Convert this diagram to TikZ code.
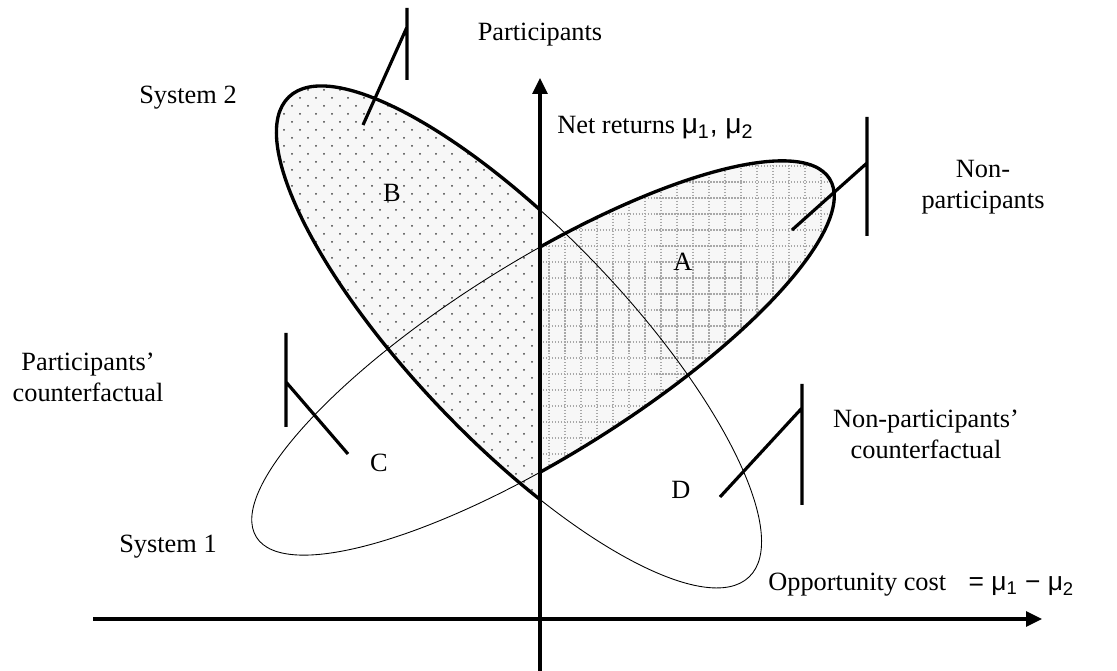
\documentclass[tikz,border=0pt]{standalone}
\usepackage{fontspec}
\setmainfont{Liberation Serif}
\newfontfamily\mufont{Liberation Sans}
\usetikzlibrary{arrows.meta}
\tikzset{every node/.append style={align=center}}
\definecolor{dotfill}{HTML}{F7F7F7}
\definecolor{dotink}{HTML}{404040}
\definecolor{gridfill}{HTML}{F7F7F7}
\definecolor{gridink}{HTML}{A8A8A8}

\begin{document}
\begin{tikzpicture}[x=0.02cm, y=-0.02cm, >={Triangle[length=0.32cm,width=0.3cm]},
  every node/.style={font=\fontsize{15}{17.6}\selectfont, align=center, inner sep=0pt},
  axis/.style={line width=1.8pt},
  leader/.style={line width=1.8pt},
  outline/.style={line width=1.9pt},
  thinline/.style={line width=0.5pt},
  sysone/.style={rotate around={32:(s1)}},
  systwo/.style={rotate around={-46.2:(s2)}}]
  \useasboundingbox (0,0) rectangle (1117,671);
  \coordinate (s1) at (543,358);
  \coordinate (s2) at (519,337);

  % B: system 2 left of the axis, dotted
  \begin{scope}
    \clip (0,0) rectangle (540,671);
    \clip[systwo] (s2) ellipse [x radius=332.5, y radius=106];
    \fill[dotfill] (0,0) rectangle (540,671);
    \foreach \i in {0,...,17} \foreach \j in {0,...,26} {
      \fill[dotink] (268+16*\i, 82+16*\j) circle [radius=1];
      \fill[dotink] (276+16*\i, 90+16*\j) circle [radius=1];
    }
  \end{scope}
  % A: system 1 right of the axis, grid
  \begin{scope}
    \clip (540,0) rectangle (1117,671);
    \clip[sysone] (s1) ellipse [x radius=338, y radius=97];
    \fill[gridfill] (540,0) rectangle (1117,671);
    \foreach \i in {0,...,19}
      \draw[gridink, line width=0.6pt, dash pattern=on 0.8pt off 0.9pt] (549+16*\i,150) -- ++(0,340);
    \foreach \j in {0,...,20}
      \draw[gridink, line width=0.6pt, dash pattern=on 0.8pt off 0.9pt] (540,166+16*\j) -- ++(300,0);
  \end{scope}

  % ellipse outlines
  \draw[thinline, systwo] (s2) ellipse [x radius=332.5, y radius=106];
  \draw[thinline, sysone] (s1) ellipse [x radius=338, y radius=97];
  \begin{scope}
    \clip (0,0) rectangle (540,671);
    \draw[outline, systwo] (s2) ellipse [x radius=332.5, y radius=106];
  \end{scope}
  \begin{scope}
    \clip (540,0) rectangle (1117,671);
    \draw[outline, sysone] (s1) ellipse [x radius=338, y radius=97];
  \end{scope}

  % axes
  \coordinate (xo) at (93,619);
  \coordinate (xe) at (1042,619);
  \coordinate (yo) at (540,671);
  \coordinate (ye) at (540,78);
  \draw[axis, ->] (xo) -- (xe);
  \draw[axis, ->] (yo) -- (ye);

  % labels
  \node (part) at (540,35) {Participants};
  \node (sys2) at (188,98) {System 2};
  \node (sys1) at (168,547) {System 1};
  \node (nonpart) at (983,187) {Non-\\participants};
  \node (pcf) at (88,377) {Participants’\\counterfactual};
  \node (npcf) at (926,434) {Non-participants’\\counterfactual};
  \node (A) at (683,262) {A};
  \node (B) at (392,193) {B};
  \node (C) at (379,463) {C};
  \node (D) at (681,490) {D};
  \node[anchor=west] (net) at (557,128) {Net returns {\mufont\fontsize{16}{18}\selectfont μ\textsubscript{1}, μ\textsubscript{2}}};
  \node[anchor=west] (opp) at (768,585) {Opportunity cost\hspace{0.45cm}{\mufont\fontsize{15}{18}\selectfont = μ\textsubscript{1} − μ\textsubscript{2}}};

  % leaders
  \coordinate (pt) at (407,8);  \coordinate (pb) at (407,80);
  \coordinate (pm) at (407,27); \coordinate (pe) at (363,125);
  \draw[leader] (pt) -- (pb) (pm) -- (pe);
  \coordinate (nt) at (867,117); \coordinate (nb) at (867,236);
  \coordinate (nm) at (867,163); \coordinate (ne) at (792,230);
  \draw[leader] (nt) -- (nb) (nm) -- (ne);
  \coordinate (ct) at (286,333); \coordinate (cb) at (286,427);
  \coordinate (cm) at (286,382); \coordinate (ce) at (348,454);
  \draw[leader] (ct) -- (cb) (cm) -- (ce);
  \coordinate (dt) at (802,384); \coordinate (db) at (802,505);
  \coordinate (dm) at (802,408); \coordinate (de) at (720,497);
  \draw[leader] (dt) -- (db) (dm) -- (de);
\end{tikzpicture}
\end{document}
